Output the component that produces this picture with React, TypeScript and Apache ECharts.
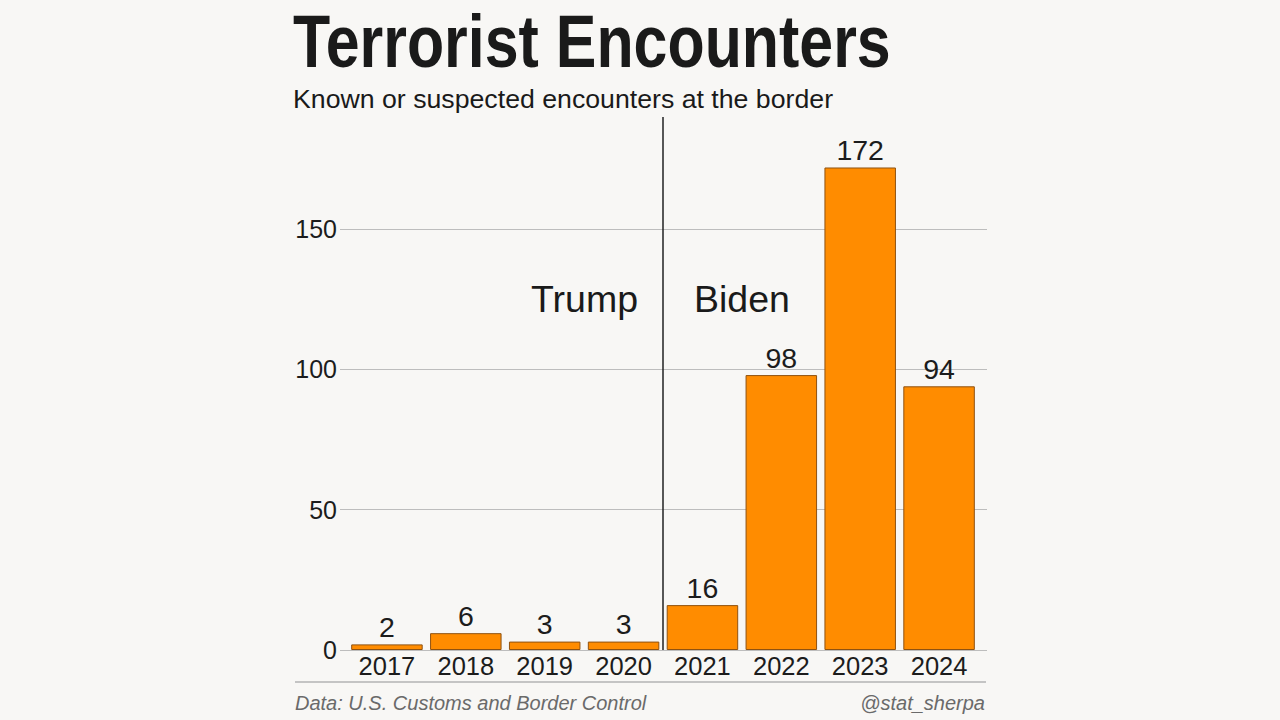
import React, { useEffect, useRef } from "react";
import * as echarts from "echarts";

const years = ["2017", "2018", "2019", "2020", "2021", "2022", "2023", "2024"];
const encounters = [2, 6, 3, 3, 16, 98, 172, 94];
const yTicks = [0, 50, 100, 150];
const yMax = 190;
const titleText = "Terrorist Encounters";
const subtitleText = "Known or suspected encounters at the border";
const sourceText = "Data: U.S. Customs and Border Control";
const creditText = "@stat_sherpa";
const leftLabel = "Trump";
const rightLabel = "Biden";

const BG = "#f8f7f5";
const INK = "#1c1c1c";

export default function App() {
  const ref = useRef<HTMLDivElement>(null);
  useEffect(() => {
    if (!ref.current) return;
    const chart = echarts.init(ref.current, null, { renderer: "svg" });
    const gridTop = 117;
    const gridBottom = 70;
    const splitColors = yTicks.map(() => "#bdbdbd").concat(["rgba(0,0,0,0)"]);
    chart.setOption({
      animation: false,
      backgroundColor: BG,
      grid: [
        { left: 340, right: 293, top: gridTop, bottom: gridBottom },
        { left: 347.5, right: 301.5, top: gridTop, bottom: gridBottom },
      ],
      xAxis: [
        { type: "value", gridIndex: 0, min: 0, max: 1, show: false },
        {
          type: "category",
          gridIndex: 1,
          data: years,
          axisLine: { show: false },
          axisTick: { show: false },
          axisLabel: {
            color: INK,
            fontSize: 25.5,
            fontFamily: "Liberation Sans, Arial, sans-serif",
            margin: 3,
          },
        },
      ],
      yAxis: [
        {
          type: "value",
          gridIndex: 0,
          min: 0,
          max: yMax,
          interval: 50,
          axisLine: { show: false },
          axisTick: { show: false },
          axisLabel: {
            color: INK,
            fontSize: 25,
            fontFamily: "Liberation Sans, Arial, sans-serif",
            margin: 3,
            formatter: (v: number) => (yTicks.includes(v) ? String(v) : ""),
          },
          splitLine: { show: true, lineStyle: { color: splitColors, width: 1 } },
        },
        { type: "value", gridIndex: 1, min: 0, max: yMax, show: false },
      ],
      series: [
        {
          type: "bar",
          xAxisIndex: 1,
          yAxisIndex: 1,
          data: encounters,
          barWidth: 71.5,
          itemStyle: { color: "#ff8c00", borderColor: "#8f5210", borderWidth: 1 },
          label: {
            show: true,
            position: "top",
            distance: 3,
            color: INK,
            fontSize: 28.5,
            fontFamily: "Liberation Sans, Arial, sans-serif",
          },
        },
      ],
    });

    const p2020 = chart.convertToPixel({ xAxisIndex: 1 }, years[3]) as number;
    const p2021 = chart.convertToPixel({ xAxisIndex: 1 }, years[4]) as number;
    const divX = (p2020 + p2021) / 2;
    const y0 = chart.convertToPixel({ yAxisIndex: 1 }, 0) as number;
    const yTop = chart.convertToPixel({ yAxisIndex: 1 }, yMax) as number;

    chart.setOption({
      graphic: [
        {
          type: "text",
          x: 293,
          y: 4,
          scaleX: 0.823,
          style: {
            text: titleText,
            fill: "#1a1a1a",
            font: "bold 74px 'Liberation Sans', Arial, sans-serif",
            textVerticalAlign: "top",
          },
        },
        {
          type: "text",
          x: 293,
          y: 85,
          style: {
            text: subtitleText,
            fill: "#1a1a1a",
            font: "26.7px 'Liberation Sans', Arial, sans-serif",
            textVerticalAlign: "top",
          },
        },
        {
          type: "line",
          shape: { x1: divX, y1: yTop, x2: divX, y2: y0 },
          style: { stroke: "#222", lineWidth: 1.5 },
          z: 10,
        },
        {
          type: "text",
          x: divX - 25,
          y: 299,
          style: {
            text: leftLabel,
            fill: "#1a1a1a",
            font: "37.5px 'Liberation Sans', Arial, sans-serif",
            textAlign: "right",
            textVerticalAlign: "middle",
          },
        },
        {
          type: "text",
          x: divX + 31,
          y: 299,
          style: {
            text: rightLabel,
            fill: "#1a1a1a",
            font: "37.5px 'Liberation Sans', Arial, sans-serif",
            textAlign: "left",
            textVerticalAlign: "middle",
          },
        },
        {
          type: "line",
          shape: { x1: 295, y1: 682, x2: 986, y2: 682 },
          style: { stroke: "#c4c4c4", lineWidth: 2 },
        },
        {
          type: "text",
          x: 295,
          y: 703,
          style: {
            text: sourceText,
            fill: "#6a6a6a",
            font: "italic 20px 'Liberation Sans', Arial, sans-serif",
            textVerticalAlign: "middle",
          },
        },
        {
          type: "text",
          x: 985,
          y: 703,
          style: {
            text: creditText,
            fill: "#6a6a6a",
            font: "italic 20px 'Liberation Sans', Arial, sans-serif",
            textAlign: "right",
            textVerticalAlign: "middle",
          },
        },
      ],
    });

    return () => chart.dispose();
  }, []);

  return (
    <div
      ref={ref}
      style={{ position: "fixed", left: 0, top: 0, width: 1280, height: 720, background: BG }}
    />
  );
}
